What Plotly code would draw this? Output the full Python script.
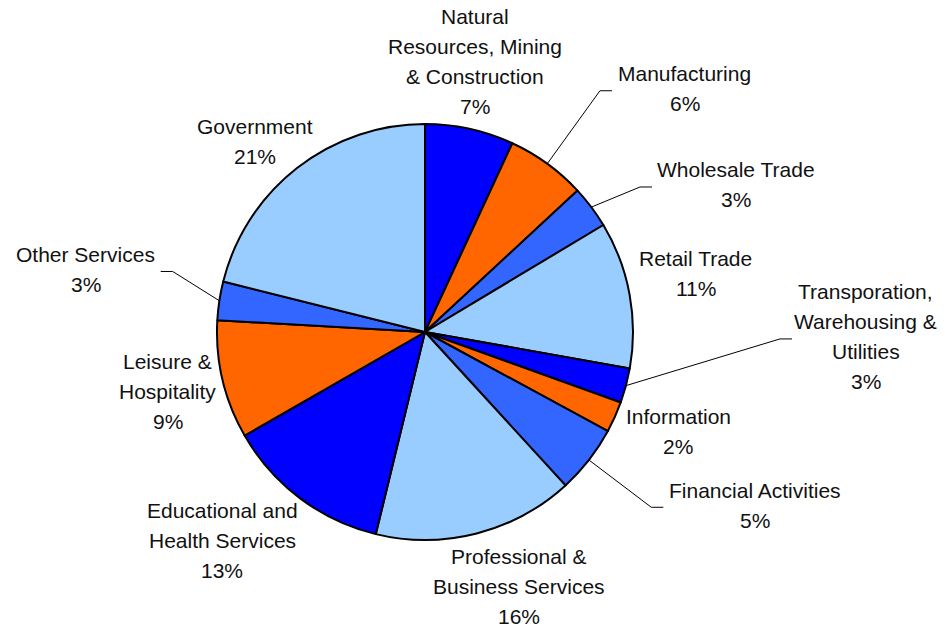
import math
import plotly.graph_objects as go

# employment by sector, share of total (%)
sectors = [
    "Natural<br>Resources, Mining<br>& Construction",
    "Manufacturing",
    "Wholesale Trade",
    "Retail Trade",
    "Transporation,<br>Warehousing &<br>Utilities",
    "Information",
    "Financial Activities",
    "Professional &<br>Business Services",
    "Educational and<br>Health Services",
    "Leisure &<br>Hospitality",
    "Other Services",
    "Government",
]
shares = [6.9, 6.2, 3.3, 11.4, 2.7, 2.4, 5.3, 15.6, 12.9, 9.2, 3.0, 21.1]

slice_colors = ["#0000FF", "#FF6600", "#3366FF", "#99CCFF"] * 3

# label placement: distance from centre (px), angular nudge (deg) off the slice middle
label_dist = [275, 356, 344, 277, 441, 272, 373, 271, 291, 264, 345, 255]
label_turn = [-1.9, 10.9, 11.6, -1.7, -14.3, -2.7, -10.3, -5.8, 7.3, 0.4, 1.8, -3.8]
# leader line end, x offset from label centre (None = no leader)
leader_dx = [None, -73, -84, None, -74, None, -92, None, None, None, 75, None]

W, H = 945, 630
CX, CY, R = 425, 332, 208
LINE_H = 30


def to_paper(x, y):
    return x / W, 1 - y / H


fig = go.Figure(go.Pie(
    labels=[s.replace("<br>", " ") for s in sectors],
    values=shares,
    sort=False,
    direction="clockwise",
    rotation=0,
    textinfo="none",
    hoverinfo="label+percent",
    marker=dict(colors=slice_colors, line=dict(color="black", width=2)),
    domain=dict(x=[(CX - R) / W, (CX + R) / W], y=[1 - (CY + R) / H, 1 - (CY - R) / H]),
))

total = sum(shares)
annotations = []
shapes = []
cum = 0
for i, v in enumerate(shares):
    mid = (cum + v / 2) / total * 360
    cum += v
    a = math.radians(mid + label_turn[i])
    lx = CX + label_dist[i] * math.sin(a)
    ly = CY - label_dist[i] * math.cos(a)
    lines = sectors[i].split("<br>") + [f"{v / total:.0%}"]
    n = len(lines)
    for k, line in enumerate(lines):
        px, py = to_paper(lx, ly + (k - (n - 1) / 2) * LINE_H)
        annotations.append(dict(
            x=px, y=py, xref="paper", yref="paper", text=line, showarrow=False,
            xanchor="center", yanchor="middle",
            font=dict(family="Liberation Sans, Arial", size=21, color="#111111"),
        ))
    if leader_dx[i] is not None:
        m = math.radians(mid)
        sx, sy = CX + R * math.sin(m), CY - R * math.cos(m)
        ex, ey = lx + leader_dx[i], ly + 2
        bx = ex + 12 * (1 if leader_dx[i] > 0 else -1)
        p0, p1, p2 = to_paper(sx, sy), to_paper(bx, ey), to_paper(ex, ey)
        shapes.append(dict(
            type="path", xref="paper", yref="paper",
            path=f"M {p0[0]},{p0[1]} L {p1[0]},{p1[1]} L {p2[0]},{p2[1]}",
            line=dict(color="black", width=1),
        ))

fig.update_layout(
    width=W, height=H,
    margin=dict(l=0, r=0, t=0, b=0),
    paper_bgcolor="white",
    showlegend=False,
    annotations=annotations,
    shapes=shapes,
)
fig.write_html("out.html", config={"displayModeBar": False},
               post_script="document.body.style.margin='0';")
